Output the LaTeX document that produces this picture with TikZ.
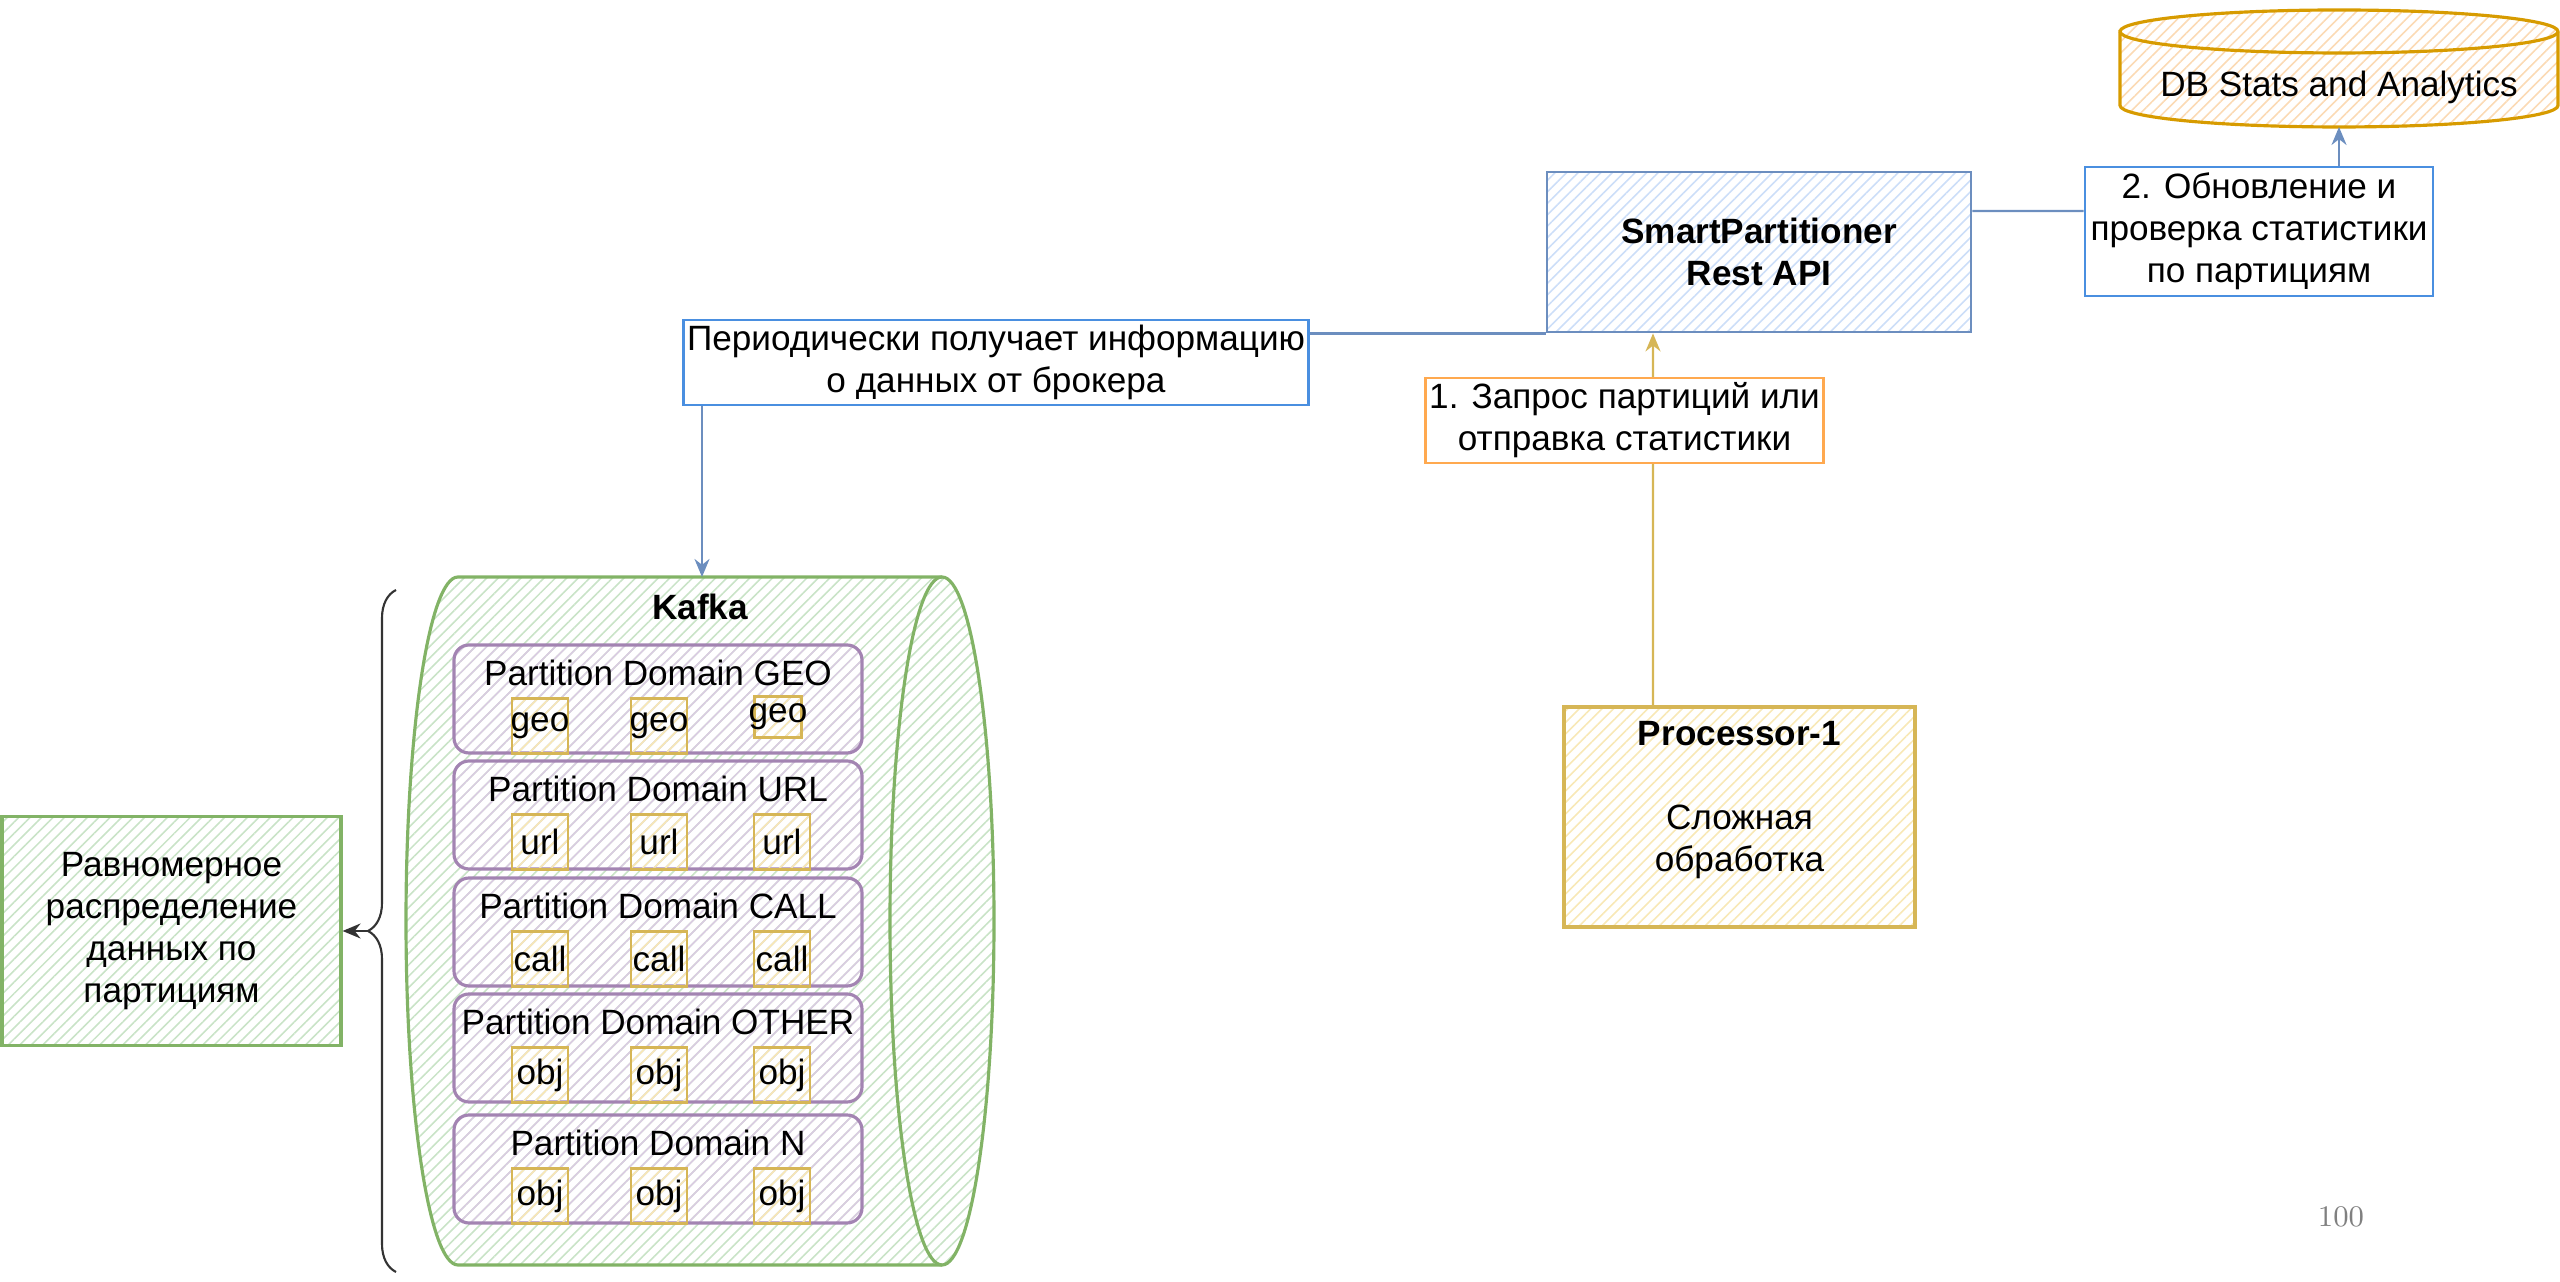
\documentclass[tikz,border=0pt]{standalone}
\usepackage{fontspec}
\setsansfont{Liberation Sans}
\usetikzlibrary{arrows.meta,patterns.meta,decorations.pathreplacing}

\definecolor{kgreen}{HTML}{82B366}
\definecolor{kgreenhatch}{HTML}{C9E3C7}
\definecolor{kpurple}{HTML}{A384B2}
\definecolor{kpurplehatch}{HTML}{DACCE2}
\definecolor{kyellow}{HTML}{D6B656}
\definecolor{kyellowhatch}{HTML}{F8E8B6}
\definecolor{kblue}{HTML}{6C8EBF}
\definecolor{kbluehatch}{HTML}{CCDEF8}
\definecolor{korange}{HTML}{D79B00}
\definecolor{korangehatch}{HTML}{FBDAB4}
\definecolor{lblblue}{HTML}{4A8FE0}
\definecolor{lblorange}{HTML}{FFA94F}

\begin{document}
\begin{tikzpicture}[
  font=\sffamily\fontsize{10}{12}\selectfont,
  >={Stealth[length=1.8mm,width=1.5mm]},
  bold/.style={font=\sffamily\bfseries\fontsize{10}{12}\selectfont},
  hatch/.style={pattern={Lines[angle=45,distance=2.3pt,line width=0.45pt]},pattern color=#1},
  greenbox/.style={draw=kgreen,line width=0.9pt,hatch=kgreenhatch},
  part/.style={draw=kpurple,line width=0.9pt,hatch=kpurplehatch,rounded corners=0.15cm,
    minimum width=4.08cm,minimum height=1.08cm},
  item/.style={draw=kyellow,line width=0.8pt,hatch=kyellowhatch,inner sep=0pt,
    minimum width=0.56cm,minimum height=0.55cm},
  smartbox/.style={draw=kblue,line width=0.8pt,hatch=kbluehatch},
  procbox/.style={draw=kyellow,line width=0.9pt,hatch=kyellowhatch},
  bluelbl/.style={draw=lblblue,line width=0.8pt,fill=white,inner sep=1pt},
  orangelbl/.style={draw=lblorange,line width=0.8pt,fill=white,inner sep=1pt},
  conn/.style={draw=kblue,line width=0.7pt},
  yconn/.style={draw=kyellow,line width=0.7pt},
  brace/.style={decorate,decoration={brace,amplitude=0.28cm},line width=0.6pt,draw=black!80}
]
\useasboundingbox (0,0) rectangle (25.6,12.82);
\def\rx{0.52}
\def\ry{3.44}

% Kafka cylinder lying on its side
\draw[greenbox] (4.58,7.05) -- (9.42,7.05)
  arc[start angle=90,end angle=-90,x radius=\rx,y radius=\ry] -- (4.58,0.17)
  arc[start angle=270,end angle=90,x radius=\rx,y radius=\ry] -- cycle;
\draw[draw=kgreen,line width=0.9pt] (9.42,7.05)
  arc[start angle=90,end angle=270,x radius=\rx,y radius=\ry];
\node[bold] (kafka) at (7.0,6.75) {Kafka};
\coordinate (kafkatop) at (7.02,7.05);

% partitions
\foreach \dom/\yc [count=\i] in {GEO/5.83,URL/4.67,CALL/3.50,OTHER/2.34,N/1.13}{
  \node[part] (part\i) at (6.58,\yc) {};
  \node (ptitle\i) at (6.58,\yc+0.26) {Partition Domain \dom};
}
\node[item] (geo1) at (5.40,5.56) {\makebox[0pt]{geo}};
\node[item] (geo2) at (6.59,5.56) {\makebox[0pt]{geo}};
\node[item,minimum width=0.47cm,minimum height=0.41cm] (geo3) at (7.78,5.65) {\makebox[0pt]{geo}};
\foreach \key/\yc [count=\i] in {url/4.67,call/3.50,obj/2.34,obj/1.13}
  \foreach \x [count=\j] in {5.40,6.59,7.82}
    \node[item] (item\i-\j) at (\x,\yc-0.27) {\makebox[0pt]{\key}};

% brace and the note on the left
\node[greenbox,minimum width=3.39cm,minimum height=2.29cm,align=center] (spread)
  at (1.715,3.51) {Равномерное\\распределение\\данных по\\партициям};
\draw[brace] (3.96,0.10) -- (3.96,6.92);
\coordinate (bracetip) at (3.68,3.51);
\draw[->,black!80,line width=0.6pt] (bracetip) -- (spread.east);

% partitioner service
\node[smartbox,bold,minimum width=4.24cm,minimum height=1.60cm,align=center] (smart)
  at (17.59,10.30) {SmartPartitioner\\Rest API};
\node[bluelbl,minimum width=6.2cm,minimum height=0.85cm,align=center] (fetch)
  at (9.96,9.195) {Периодически получает информацию\\о данных от брокера};
\draw[conn] (smart.south west) -- (smart.south west -| fetch.east);
\draw[conn,->] (fetch.south -| kafkatop) -- (kafkatop);

% stats database
\draw[draw=korange,line width=0.9pt,hatch=korangehatch] (21.20,12.505) -- (21.20,11.765)
  arc[start angle=180,end angle=360,x radius=2.19,y radius=0.215] -- (25.58,12.505)
  arc[start angle=0,end angle=180,x radius=2.19,y radius=0.215] -- cycle;
\draw[draw=korange,line width=0.9pt] (21.20,12.505)
  arc[start angle=180,end angle=360,x radius=2.19,y radius=0.215];
\node (db) at (23.39,11.95) {DB Stats and Analytics};
\coordinate (dbbot) at (23.39,11.55);
\node[bluelbl,minimum width=3.48cm,minimum height=1.29cm,align=center] (update)
  at (22.59,10.505) {2. Обновление и\\проверка статистики\\по партициям};
\draw[conn] ([yshift=4.1mm]smart.east) -- ([yshift=2.05mm]update.west);
\draw[conn,->] (update.north -| dbbot) -- (dbbot);

% processor
\node[procbox,minimum width=3.51cm,minimum height=2.20cm] (proc) at (17.395,4.65) {};
\node[align=center] (proctext) at (17.395,4.82) {\textbf{Processor-1}\\[12pt]Сложная\\обработка};
\draw[yconn,->] ([xshift=-8.65mm]proc.north) -- ([xshift=-10.6mm]smart.south);
\node[orangelbl,minimum width=3.89cm,minimum height=0.85cm,align=center] (req)
  at (16.245,8.615) {1. Запрос партиций или\\отправка статистики};

\node[text=gray,font=\rmfamily\fontsize{8.5}{10}\selectfont] (pagenum) at (23.41,0.65) {100};
\end{tikzpicture}
\end{document}
